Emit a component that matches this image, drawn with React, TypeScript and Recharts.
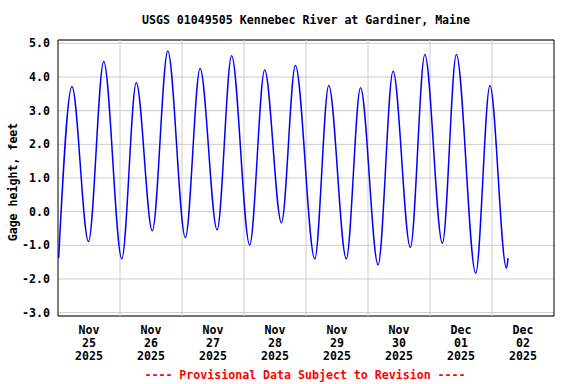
import React from "react";
import { LineChart, Line, XAxis, YAxis, CartesianGrid, ReferenceLine, ReferenceArea } from "recharts";

// hours since Nov 25 2025 00:00 (tide highs and lows)
const hours = [0.25, 5.4, 11.8, 17.7, 24.7, 30.3, 36.5, 42.5, 49.3, 55.0, 61.6, 67.2, 74.2, 80.0, 86.5, 91.9, 99.4, 104.8, 111.6, 117.1, 123.9, 129.7, 136.4, 142.0, 148.8, 154.2, 161.7, 167.2, 173.6, 174.2];
const gageHeight = [-1.38, 3.72, -0.89, 4.46, -1.4, 3.83, -0.57, 4.77, -0.77, 4.25, -0.54, 4.63, -0.99, 4.21, -0.33, 4.34, -1.4, 3.75, -1.4, 3.68, -1.58, 4.17, -1.06, 4.67, -0.94, 4.67, -1.83, 3.75, -1.68, -1.38];

const dayStarts = [24, 48, 72, 96, 120, 144, 168];
const labelHours = [12, 36, 60, 84, 108, 132, 156, 180];
const labelMonths = ["Nov", "Nov", "Nov", "Nov", "Nov", "Nov", "Dec", "Dec"];
const labelDays = ["25", "26", "27", "28", "29", "30", "01", "02"];
const labelYears = ["2025", "2025", "2025", "2025", "2025", "2025", "2025", "2025"];
const yTicks = [-3, -2, -1, 0, 1, 2, 3, 4, 5];

const data = hours.map((h, i) => ({ h, v: gageHeight[i] }));

const FONT = "'DejaVu Sans Mono', monospace";

const DateTick = (props: any) => {
	const { x, y, payload } = props;
	const i = labelHours.indexOf(payload.value);
	return (
		<g transform={`translate(${x},${y})`}>
			<text textAnchor="middle" fontFamily={FONT} fontWeight="bold" fontSize={11.6} fill="#000">
				<tspan x={0} dy={10}>{labelMonths[i]}</tspan>
				<tspan x={0} dy={12.8}>{labelDays[i]}</tspan>
				<tspan x={0} dy={12.8}>{labelYears[i]}</tspan>
			</text>
		</g>
	);
};

export default function App() {
	return (
		<div style={{ position: "absolute", left: 0, top: 0, width: 576, height: 384, background: "#fff" }}>
			<LineChart width={576} height={384} data={data} margin={{ top: 40, right: 22, left: 0, bottom: 0 }}>
				<CartesianGrid vertical={false} stroke="#cccccc" />
				<XAxis
					dataKey="h"
					type="number"
					domain={[0, 192]}
					ticks={labelHours}
					tick={<DateTick />}
					tickLine={false}
					axisLine={false}
					height={68}
					interval={0}
					allowDataOverflow
				/>
				<YAxis
					type="number"
					domain={[-3.1, 5.1]}
					ticks={yTicks}
					width={58}
					tickLine={false}
					axisLine={false}
					interval={0}
					tickFormatter={(v: number) => v.toFixed(1)}
					tick={{ fontFamily: FONT, fontWeight: "bold", fontSize: 11.6, fill: "#000" }}
					allowDataOverflow
				/>
				{dayStarts.map((d) => (
					<ReferenceLine key={d} x={d} stroke="#cccccc" />
				))}
				<ReferenceArea x1={0} x2={192} y1={-3.1} y2={5.1} fill="none" stroke="#000" strokeWidth={1} />
				<Line dataKey="v" type="monotone" stroke="#0000ff" strokeWidth={1.5} dot={false} isAnimationActive={false} />
			</LineChart>
			<svg width={576} height={384} style={{ position: "absolute", left: 0, top: 0, pointerEvents: "none" }}>
				<text x={306} y={24} textAnchor="middle" fontFamily={FONT} fontWeight="bold" fontSize={11.6} fill="#000">
					USGS 01049505 Kennebec River at Gardiner, Maine
				</text>
				<text x={13} y={182} transform="rotate(-90 13 182)" textAnchor="middle" dominantBaseline="central" fontFamily={FONT} fontWeight="bold" fontSize={11.6} fill="#000">
					Gage height, feet
				</text>
				<text x={305} y={379} textAnchor="middle" fontFamily={FONT} fontWeight="bold" fontSize={11.6} fill="#ff0000">
					---- Provisional Data Subject to Revision ----
				</text>
			</svg>
		</div>
	);
}
